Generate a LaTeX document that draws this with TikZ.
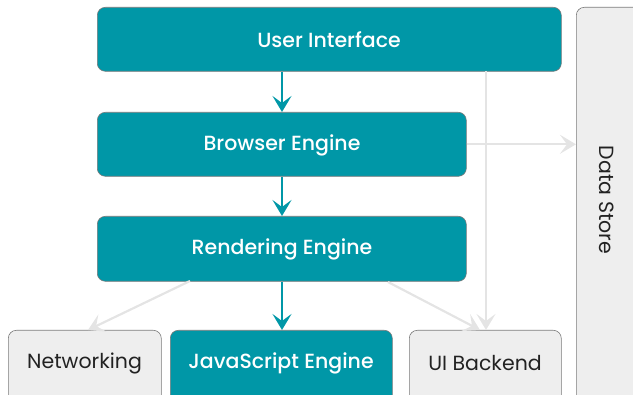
\documentclass[tikz,border=0pt]{standalone}
\usepackage{fontspec}
\setmainfont{Poppins}[UprightFont=* Medium]
\newfontfamily\lightlabel{Poppins}
\usetikzlibrary{arrows.meta}
\definecolor{teal1}{HTML}{0097A7}
\definecolor{lightbox}{HTML}{EEEEEE}
\definecolor{edgegray}{HTML}{7A7A7A}
\definecolor{faint}{HTML}{E4E4E4}
\definecolor{inktext}{HTML}{222222}
\tikzset{
  labelfont/.style={font=\fontsize{20.5}{23}\selectfont},
  darklabel/.style={text=inktext, font=\lightlabel\fontsize{20.5}{23}\selectfont},
  whitelabel/.style={text=white, labelfont},
  tealbox/.style={draw=edgegray, line width=0.6pt, fill=teal1, rounded corners=8pt},
  graybox/.style={draw=edgegray, line width=0.6pt, fill=lightbox, rounded corners=8pt},
  mainflow/.style={draw=teal1, line width=2.6pt, -{Stealth[length=16pt,width=19pt,inset=7pt]}},
  sideflow/.style={draw=faint, line width=2.2pt, -{Stealth[length=16pt,width=19pt,inset=7pt]}},
}
\begin{document}
\begin{tikzpicture}[x=1pt,y=-1pt]
\useasboundingbox (0,0) rectangle (633,395);
% boxes
\node[tealbox, minimum width=464, minimum height=64, anchor=north west] (ui) at (97,7) {};
\node[whitelabel] (uil) at (329,40) {User Interface};
\node[tealbox, minimum width=369, minimum height=64, anchor=north west] (be) at (97,112) {};
\node[whitelabel] (bel) at (282,145) {Browser Engine};
\node[tealbox, minimum width=369, minimum height=65, anchor=north west] (re) at (97,216) {};
\node[whitelabel] (rel) at (282,249) {Rendering Engine};
\node[graybox, minimum width=153, minimum height=75, anchor=north west] (net) at (8,330) {};
\node[darklabel] (netl) at (84.5,363) {Networking};
\node[tealbox, minimum width=222, minimum height=75, anchor=north west] (js) at (170,330) {};
\node[whitelabel] (jsl) at (281,363) {JavaScript Engine};
\node[graybox, minimum width=152, minimum height=75, anchor=north west] (uib) at (409,330) {};
\node[darklabel] (uibl) at (485,363) {UI Backend};
\node[graybox, minimum width=70, minimum height=400, anchor=north west] (ds) at (576,7) {};
\node[darklabel, rotate=-90] (dsl) at (607,200) {Data Store};
% light connectors
\coordinate (uiDown) at (486,71);
\coordinate (uibTop) at (486,330);
\draw[sideflow] (uiDown) -- (uibTop);
\draw[sideflow] (be.east) -- (ds.west |- be.east);
\coordinate (reL) at (190,281);
\coordinate (netTop) at (88,330);
\draw[sideflow] (reL) -- (netTop);
\coordinate (reR) at (388,282);
\coordinate (uibTopL) at (480,330);
\draw[sideflow] (reR) -- (uibTopL);
% main flow
\draw[mainflow] (ui.south -| 282,0) -- (be.north -| 282,0);
\draw[mainflow] (be.south -| 282,0) -- (re.north -| 282,0);
\draw[mainflow] (re.south -| 282,0) -- (js.north -| 282,0);
\end{tikzpicture}
\end{document}
